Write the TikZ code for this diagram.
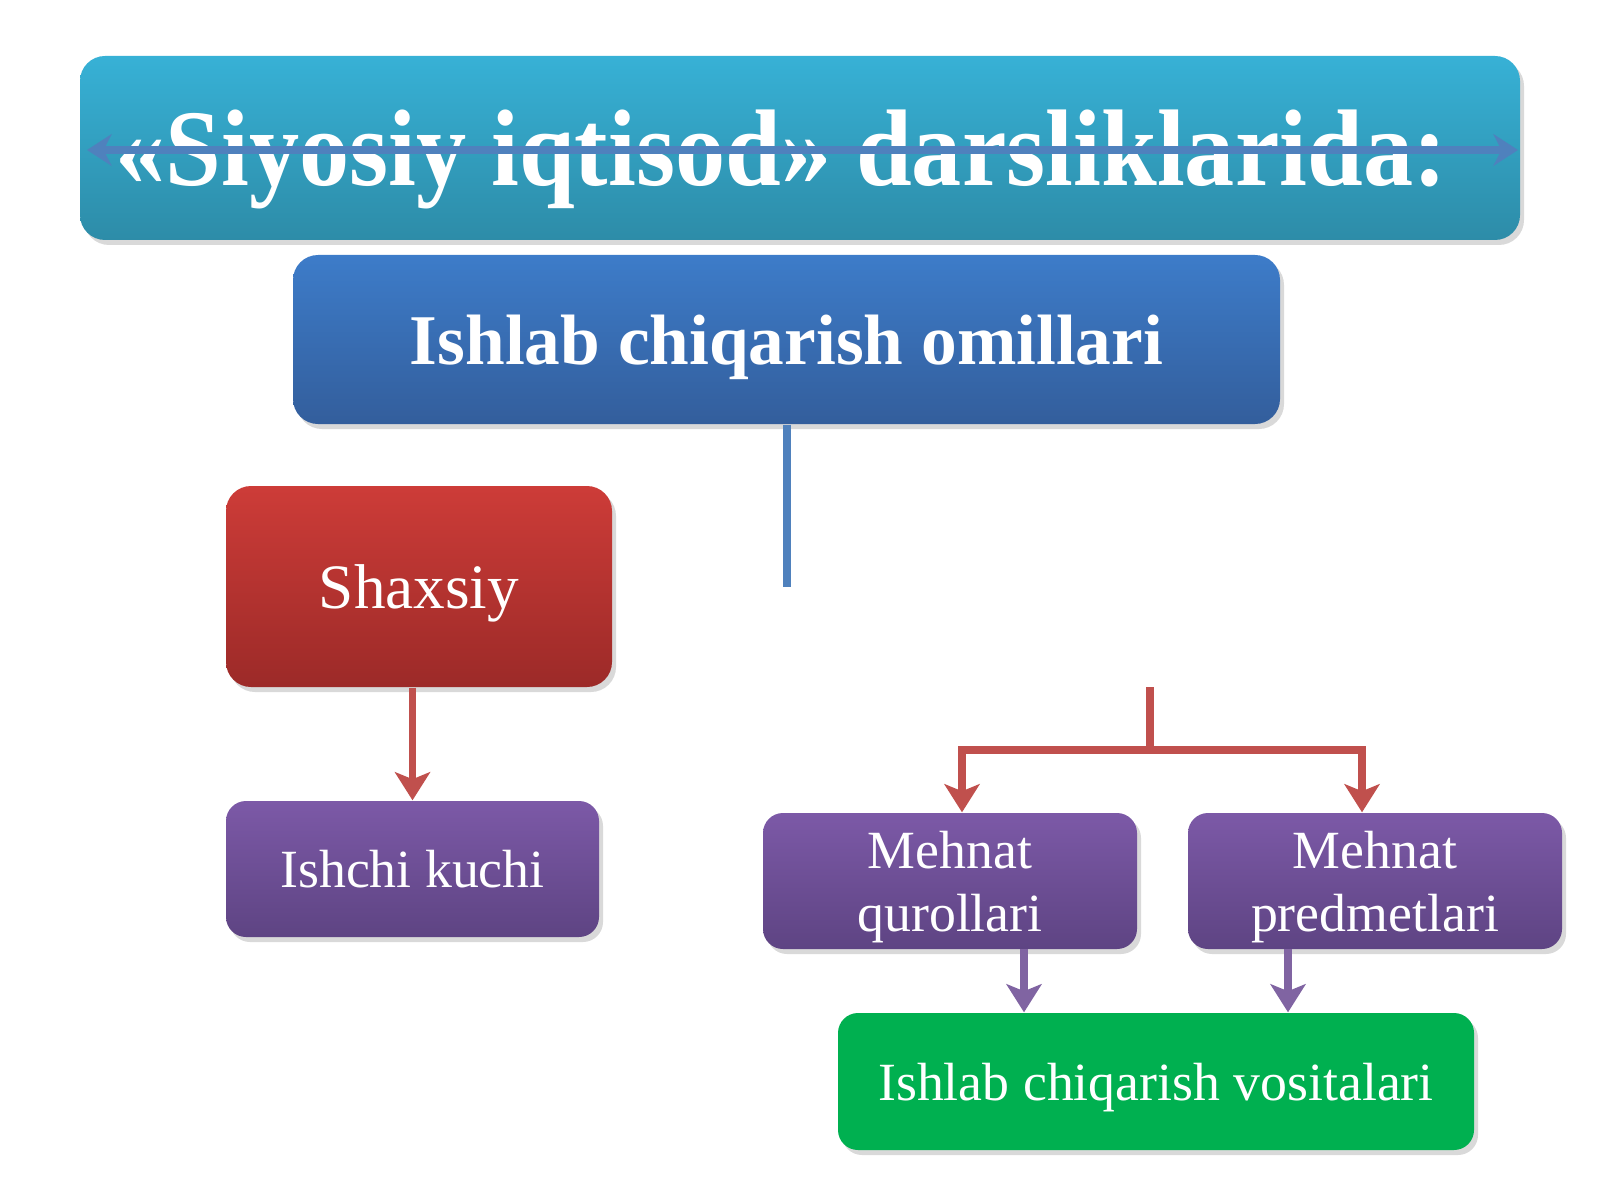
\documentclass[tikz,border=0pt]{standalone}
\usepackage{fontspec}
\setmainfont{Liberation Serif}
\usetikzlibrary{arrows.meta,shadows}
\definecolor{titletop}{HTML}{37B1D6}
\definecolor{titlebot}{HTML}{2D8CA8}
\definecolor{bluetop}{HTML}{3D7CC9}
\definecolor{bluebot}{HTML}{335E9C}
\definecolor{redtop}{HTML}{CD3C38}
\definecolor{redbot}{HTML}{9C2A28}
\definecolor{purtop}{HTML}{7C59A7}
\definecolor{purbot}{HTML}{5E4483}
\definecolor{boxgreen}{HTML}{00B050}
\definecolor{lineblue}{HTML}{4F81BD}
\definecolor{linered}{HTML}{C0504D}
\definecolor{linepur}{HTML}{8064A2}
\tikzset{
	card/.style={rounded corners=0.25cm, text=white, align=center, inner sep=0pt, text depth=0pt,
		drop shadow={shadow xshift=0.04cm, shadow yshift=-0.05cm, opacity=0.3}},
	smallcard/.style={card, rounded corners=0.2cm, minimum width=3.74cm, minimum height=1.36cm,
		top color=purtop, bottom color=purbot, font=\fontsize{15.3}{18}\selectfont},
	link/.style={line width=2.2pt, -{Stealth[length=8pt, width=10pt, inset=2pt]}}
}
\begin{document}
\begin{tikzpicture}
	\useasboundingbox (0,0) rectangle (16,12);
	%title
	\node[card, top color=titletop, bottom color=titlebot, minimum width=14.4cm, minimum height=1.84cm,
		font=\bfseries\fontsize{31}{34}\selectfont] (title) at (8, 10.52) {\hspace*{-0.38cm}\scalebox{0.92}[1]{«Siyosiy iqtisod» darsliklarida:}};
	\coordinate (tl) at (0.87, 10.50);
	\coordinate (tr) at (15.18, 10.50);
	\draw[lineblue, line width=2.2pt, {Stealth[length=7pt, width=9pt]}-{Stealth[length=7pt, width=9pt]}] (tl) -- (tr);
	
	%factors
	\node[card, top color=bluetop, bottom color=bluebot, minimum width=9.87cm, minimum height=1.69cm,
		font=\bfseries\fontsize{20.3}{22}\selectfont] (omillar) at (7.865, 8.605) {Ishlab chiqarish omillari};
	\coordinate (bluend) at (7.87, 6.13);
	\draw[lineblue, line width=2.2pt] (omillar.south -| bluend) -- (bluend);
	
	\node[card, top color=redtop, bottom color=redbot, minimum width=3.86cm, minimum height=2.01cm,
		font=\fontsize{18}{20}\selectfont] (shaxsiy) at (4.19, 6.135) {Shaxsiy};
	\node[smallcard, minimum width=3.73cm] (ishchi) at (4.125, 3.31) {Ishchi kuchi};
	\draw[link, linered] (ishchi.north |- shaxsiy.south) -- (ishchi.north);
	
	%right tree
	\node[smallcard] (qurol) at (9.50, 3.19) {Mehnat\\qurollari};
	\node[smallcard] (predmet) at (13.75, 3.19) {Mehnat\\predmetlari};
	\coordinate (stem) at (11.50, 5.13);
	\coordinate (fork) at (11.50, 4.50);
	\coordinate (forkl) at (9.62, 4.50);
	\coordinate (forkr) at (13.62, 4.50);
	\draw[linered, line width=2.2pt] (stem) -- (fork);
	\draw[link, linered] (fork) -- (forkl) -- (forkl |- qurol.north);
	\draw[link, linered] (fork) -- (forkr) -- (forkr |- predmet.north);
	
	\node[card, rounded corners=0.2cm, fill=boxgreen, minimum width=6.36cm, minimum height=1.37cm,
		font=\fontsize{15.3}{18}\selectfont] (vosita) at (11.56, 1.185) {Ishlab chiqarish vositalari};
	\coordinate (qurolout) at (10.24, 2.51);
	\coordinate (predout) at (12.88, 2.51);
	\draw[link, linepur] (qurolout) -- (qurolout |- vosita.north);
	\draw[link, linepur] (predout) -- (predout |- vosita.north);
\end{tikzpicture}
\end{document}
